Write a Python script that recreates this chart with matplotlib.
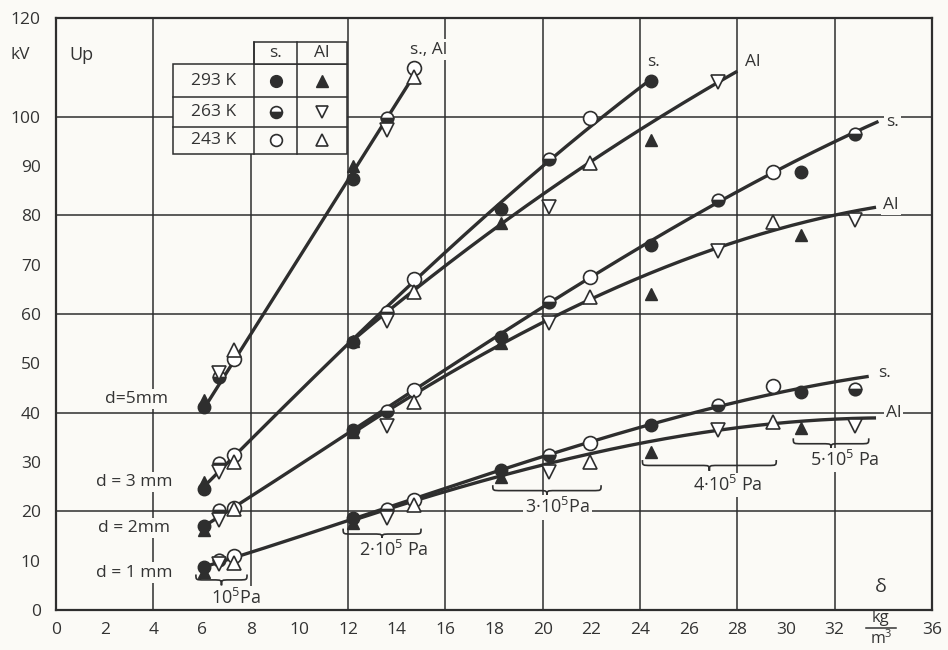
import numpy as np
import matplotlib
matplotlib.use("Agg")
import matplotlib.pyplot as plt
from matplotlib.path import Path
from matplotlib.patches import PathPatch, Rectangle

plt.rcParams['font.family'] = ['Open Sans', 'DejaVu Sans']
plt.rcParams['mathtext.fontset'] = 'custom'
plt.rcParams['mathtext.rm'] = 'Open Sans'
plt.rcParams['mathtext.it'] = 'Open Sans'

# ---------------- data ----------------
# gas density (kg/m^3) at the three temperatures for 1..5 *10^5 Pa
x293 = [6.1, 12.2, 18.3, 24.45, 30.6]
x263 = [6.7, 13.6, 20.25, 27.2, 32.85]
x243 = [7.3, 14.7, 21.95, 29.45]

# breakdown voltage Up (kV); keys: (gap, electrode, temperature)
d1_s293 = [8.8, 18.6, 28.4, 37.5, 44.1]
d1_al293 = [7.8, 17.6, 27.0, 32.1, 36.8]
d1_s263 = [10.1, 20.4, 31.4, 41.6, 44.7]
d1_al263 = [9.3, 18.6, 28.0, 36.5, 37.2]
d1_s243 = [10.9, 22.3, 33.8, 45.5]
d1_al243 = [9.6, 21.3, 30.1, 38.2]

d2_s293 = [17.0, 36.5, 55.4, 74.0, 88.7]
d2_al293 = [16.3, 36.0, 54.1, 64.1, 76.0]
d2_s263 = [20.3, 40.4, 62.5, 83.1, 96.4]
d2_al263 = [18.2, 37.3, 58.1, 72.8, 79.1]
d2_s243 = [20.7, 44.6, 67.4, 88.7]
d2_al243 = [20.5, 42.2, 63.4, 78.7]

d3_s293 = [24.5, 54.4, 81.2, 107.2]
d3_al293 = [26.0, 54.6, 78.4, 95.3]
d3_s263 = [29.7, 60.5, 91.4]
d3_al263 = [28.0, 58.6, 81.6, 107.1]
d3_s243 = [31.4, 67.1, 99.8]
d3_al243 = [30.1, 64.5, 90.7]

d5_s293 = [41.2, 87.3]
d5_al293 = [42.6, 89.9]
d5_s263 = [47.3, 99.8]
d5_al263 = [48.1, 97.2]
d5_s243 = [50.8, 109.9]
d5_al243 = [52.7, 108.0]

# hand-drawn fitted curves (nodes)
c5_x = [6.1, 14.6]
c5_y = [41.0, 107.5]
c3s_x = [6.1, 7.3, 12.2, 14.7, 18.3, 20.2, 24.4]
c3s_y = [25.0, 31.2, 54.8, 66.8, 82.0, 91.4, 107.3]
c3a_x = [12.2, 14.7, 18.3, 20.2, 22.0, 27.25, 28.0]
c3a_y = [54.8, 64.5, 78.4, 85.2, 90.7, 107.0, 109.3]
c2s_x = [6.1, 7.3, 12.2, 14.7, 18.3, 20.2, 22.0, 24.4, 27.2, 29.5, 33.8]
c2s_y = [17.0, 20.8, 36.5, 44.6, 55.8, 62.3, 67.6, 74.2, 83.0, 88.7, 99.0]
c2a_x = [12.2, 14.7, 18.3, 20.2, 22.0, 23.6, 27.25, 29.5, 32.1, 33.7]
c2a_y = [36.5, 42.4, 54.2, 59.1, 63.5, 66.6, 72.8, 77.0, 80.4, 81.6]
c1s_x = [6.1, 7.3, 12.2, 14.7, 18.3, 20.3, 22.0, 24.5, 27.2, 29.5, 33.4]
c1s_y = [8.6, 10.8, 18.5, 22.4, 28.5, 31.5, 34.0, 38.0, 41.2, 43.7, 47.4]
c1a_x = [12.2, 14.7, 18.3, 20.3, 23.6, 27.15, 30.6, 33.7]
c1a_y = [18.2, 22.0, 27.3, 29.9, 33.1, 36.5, 38.3, 38.9]

x_ticks = [0, 2, 4, 6, 8, 10, 12, 14, 16, 18, 20, 22, 24, 26, 28, 30, 32, 34, 36]
x_ticklabels = ['0', '2', '4', '6', '8', '10', '12', '14', '16', '18', '20',
                '22', '24', '26', '28', '30', '32', '', '36']
y_ticks = [0, 10, 20, 30, 40, 50, 60, 70, 80, 90, 100, 110, 120]
y_ticklabels = ['0', '10', '20', '30', '40', '50', '60', '70', '80', '90',
                '100', '', '120']
temps = ['293 K', '263 K', '243 K']
pressures = ['10$^5$Pa', '2·10$^5$ Pa', '3·10$^5$Pa', '4·10$^5$ Pa', '5·10$^5$ Pa']

# ---------------- style ----------------
BG = '#fbfaf6'
INK = '#2e2e2e'
TXT = '#333333'

fig = plt.figure(figsize=(9.48, 6.5), dpi=100, facecolor=BG)
ax = fig.add_axes([56 / 948, 1 - 610 / 650, 876 / 948, 592 / 650])
ax.set_facecolor(BG)
ax.set_xlim(0, 36)
ax.set_ylim(0, 120)

for s in ax.spines.values():
    s.set_linewidth(1.6)
    s.set_color(INK)

ax.set_xticks(x_ticks)
ax.set_xticklabels(x_ticklabels)
ax.set_yticks(y_ticks)
ax.set_yticklabels(y_ticklabels)
ax.set_xticks([2, 6, 10, 14, 18, 22, 26, 30, 34], minor=True)
ax.set_yticks([10, 30, 50, 70, 90, 110], minor=True)
ax.tick_params(axis='both', which='major', length=0, labelsize=12.5,
               labelcolor=TXT)
ax.tick_params(axis='x', which='major', pad=9)
ax.tick_params(axis='y', which='major', pad=11)
ax.tick_params(axis='x', which='minor', direction='in', length=5,
               width=1.2, color=INK)
ax.tick_params(axis='y', which='minor', direction='in', length=4,
               width=1.2, color=INK)

# grid
GLW = 1.1
for gx in [4, 12, 16, 20, 24, 28, 32]:
    ax.axvline(gx, color=INK, lw=GLW, zorder=1)
ax.axvline(8, ymax=92.5 / 120, color=INK, lw=GLW, zorder=1)
for gy in [20, 40, 60, 80, 100]:
    ax.axhline(gy, color=INK, lw=GLW, zorder=1)

# fitted curves
CLW = 2.4


def curve(xs, ys):
    deg = 1 if len(xs) < 3 else (2 if len(xs) < 6 else 3)
    p = np.polyfit(xs, ys, deg)
    xx = np.linspace(min(xs), max(xs), 200)
    ax.plot(xx, np.polyval(p, xx), color=INK, lw=CLW, zorder=3,
            solid_capstyle='butt')


for cx, cy in [(c5_x, c5_y), (c3s_x, c3s_y), (c3a_x, c3a_y),
               (c2s_x, c2s_y), (c2a_x, c2a_y), (c1s_x, c1s_y),
               (c1a_x, c1a_y)]:
    curve(cx, cy)

# markers
MS = 9
styles = {
    's293': dict(marker='o', mfc=INK, mec=INK, ms=MS),
    'al293': dict(marker='^', mfc=INK, mec=INK, ms=MS),
    's263': dict(marker='o', fillstyle='bottom', mfc=INK,
                 markerfacecoloralt='white', mec=INK, ms=MS, mew=1.2),
    'al263': dict(marker='v', mfc='white', mec=INK, ms=MS + 1, mew=1.2),
    's243': dict(marker='o', mfc='white', mec=INK, ms=MS + 1, mew=1.2),
    'al243': dict(marker='^', mfc='white', mec=INK, ms=MS + 1, mew=1.2),
}


def pts(xs, ys, key):
    ax.plot(xs[:len(ys)], ys, linestyle='none', zorder=4, **styles[key])


groups = [
    (d1_s293, d1_al293, d1_s263, d1_al263, d1_s243, d1_al243),
    (d2_s293, d2_al293, d2_s263, d2_al263, d2_s243, d2_al243),
    (d3_s293, d3_al293, d3_s263, d3_al263, d3_s243, d3_al243),
    (d5_s293, d5_al293, d5_s263, d5_al263, d5_s243, d5_al243),
]
for g in groups:
    pts(x293, g[0], 's293')
    pts(x293, g[1], 'al293')
    pts(x263, g[2], 's263')
    pts(x263, g[3], 'al263')
    pts(x243, g[4], 's243')
    pts(x243, g[5], 'al243')

# text helper with paper-coloured box that interrupts the grid
BOX = dict(facecolor=BG, edgecolor='none', pad=1.5)


def label(x, y, s, ha='center', size=12.5, box=True):
    ax.text(x, y, s, ha=ha, va='center', fontsize=size, color=TXT,
            zorder=2, bbox=BOX if box else None)


# curve labels
label(15.3, 113.6, 's., Al')
label(24.55, 111.0, 's.')
label(28.3, 111.0, 'Al', ha='left')
label(34.1, 99.0, 's.', ha='left')
label(34.0, 82.1, 'Al', ha='left')
label(33.8, 48.0, 's.', ha='left')
label(34.1, 39.9, 'Al', ha='left')

# gap labels
label(3.3, 42.7, 'd=5mm')
label(3.2, 26.0, 'd = 3 mm')
label(3.2, 16.6, 'd = 2mm')
label(3.2, 7.6, 'd = 1 mm')

# axis texts
label(1.05, 112.5, 'Up', size=13)
ax.text(-1.45, 112.5, 'kV', ha='center', va='center', fontsize=12.5,
        color=TXT, clip_on=False)
label(33.9, 4.7, 'δ', size=14)
ax.text(33.9, -3.3, 'kg', ha='center', va='bottom', fontsize=12,
        color=TXT, clip_on=False)
ax.plot([33.3, 34.5], [-3.6, -3.6], color=TXT, lw=1.1, clip_on=False)
ax.text(33.9, -3.9, 'm$^3$', ha='center', va='top', fontsize=11.5,
        color=TXT, clip_on=False)


# braces for pressure groups
def brace(x0, x1, y, h=2.2, q=0.35):
    xm = (x0 + x1) / 2
    verts = [(x0, y), (x0, y - h / 2), (x0, y - h / 2), (x0 + q, y - h / 2),
             (xm - q, y - h / 2), (xm, y - h / 2), (xm, y - h / 2), (xm, y - h),
             (xm, y - h / 2), (xm, y - h / 2), (xm + q, y - h / 2),
             (x1 - q, y - h / 2), (x1, y - h / 2), (x1, y - h / 2), (x1, y)]
    codes = [Path.MOVETO, Path.CURVE4, Path.CURVE4, Path.CURVE4,
             Path.LINETO, Path.CURVE4, Path.CURVE4, Path.CURVE4,
             Path.CURVE4, Path.CURVE4, Path.CURVE4,
             Path.LINETO, Path.CURVE4, Path.CURVE4, Path.CURVE4]
    ax.add_patch(PathPatch(Path(verts, codes), fill=False, edgecolor=INK,
                           lw=1.2, zorder=2))


brace_spans = [(5.75, 7.85, 7.2), (11.8, 15.0, 16.5), (17.95, 22.4, 25.3),
               (24.1, 29.6, 30.4), (30.3, 33.4, 34.8)]
press_pos = [(7.4, 2.4), (13.9, 12.2), (20.6, 20.8), (27.6, 25.3),
             (32.4, 30.4)]
for (a, b, yb), (px, py), txt in zip(brace_spans, press_pos, pressures):
    brace(a, b, yb)
    label(px, py, txt, size=13)

# legend table
tx = [4.82, 8.14, 9.92, 11.95]
ty = [115.2, 110.6, 104.0, 97.9, 92.5]
ax.add_patch(Rectangle((tx[0], ty[4]), tx[3] - tx[0], ty[1] - ty[4],
                       facecolor=BG, edgecolor=INK, lw=1.1, zorder=5))
ax.add_patch(Rectangle((tx[1], ty[1]), tx[3] - tx[1], ty[0] - ty[1],
                       facecolor=BG, edgecolor=INK, lw=1.1, zorder=5))
for xv in [tx[1], tx[2]]:
    ax.plot([xv, xv], [ty[4], ty[0]], color=INK, lw=1.1, zorder=6)
for yv in [ty[2], ty[3]]:
    ax.plot([tx[0], tx[3]], [yv, yv], color=INK, lw=1.1, zorder=6)
ax.text((tx[1] + tx[2]) / 2, (ty[0] + ty[1]) / 2, 's.', ha='center',
        va='center', fontsize=12.5, color=TXT, zorder=7)
ax.text((tx[2] + tx[3]) / 2, (ty[0] + ty[1]) / 2, 'Al', ha='center',
        va='center', fontsize=12.5, color=TXT, zorder=7)
row_y = [(ty[1] + ty[2]) / 2, (ty[2] + ty[3]) / 2, (ty[3] + ty[4]) / 2]
keys_s = ['s293', 's263', 's243']
keys_a = ['al293', 'al263', 'al243']
for ry, t, ks, ka in zip(row_y, temps, keys_s, keys_a):
    ax.text((tx[0] + tx[1]) / 2, ry, t, ha='center', va='center',
            fontsize=12.5, color=TXT, zorder=7)
    st = dict(styles[ks]); st['ms'] = 8.5
    ax.plot([(tx[1] + tx[2]) / 2], [ry], linestyle='none', zorder=7, **st)
    st = dict(styles[ka]); st['ms'] = 8.5
    ax.plot([(tx[2] + tx[3]) / 2], [ry], linestyle='none', zorder=7, **st)

fig.savefig('out.png', dpi=100, facecolor=BG)
